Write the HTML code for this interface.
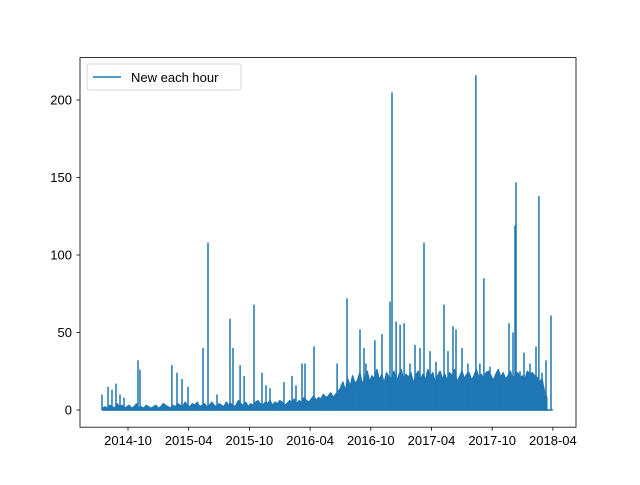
<!DOCTYPE html>
<html><head><meta charset="utf-8"><style>
body{margin:0;background:#fff}
svg{font-family:"Liberation Sans","DejaVu Sans",sans-serif}
</style></head><body>
<svg width="640" height="480" viewBox="0 0 640 480">
<rect width="640" height="480" fill="#fff"/>
<g id="plot"></g>
<rect x="80" y="57.6" width="496" height="369.6" fill="none" stroke="#000" stroke-width="0.8"/>
<g id="xt"></g>
<g id="yt"></g>
<g>
<rect x="87" y="64" width="154" height="26" rx="2" fill="#fff" fill-opacity="0.8" stroke="#ccc" stroke-width="0.8"/>
<line x1="93" y1="77" x2="121" y2="77" stroke="#1f77b4" stroke-width="1.5"/>
<text x="131" y="82" font-size="13" fill="#000">New each hour</text>
</g>
</svg>
<script>
const xTickYears=[2014.75,2015.25,2015.75,2016.25,2016.75,2017.25,2017.75,2018.25];
const xTickLabels=["2014-10","2015-04","2015-10","2016-04","2016-10","2017-04","2017-10","2018-04"];
const yTicks=[0,50,100,150,200];
const bgStart=2014.54, bgStep=0.02;
const bgValues=[1,2,1,3,2,1,4,2,3,1,2,3,1,2,4,1,2,1,3,2,1,2,3,1,2,4,3,2,1,3,2,4,3,2,5,3,2,4,3,5,2,3,4,2,3,5,3,2,4,3,2,5,3,4,2,3,6,4,3,5,2,4,3,5,6,4,3,5,4,6,3,5,4,6,5,3,4,6,5,7,4,6,5,8,6,5,7,9,6,8,7,10,8,9,11,8,10,12,
14,18,12,20,15,22,17,19,24,16,21,25,18,22,20,26,19,23,17,24,21,20,25,18,22,26,19,23,21,24,17,22,25,20,23,19,26,21,24,18,22,25,20,23,19,24,22,26,18,21,25,20,23,24,19,22,26,21,23,20,24,25,22,19,23,26,21,24,20,22,25,19,23,24,21,22,20,25,23,24,22,21,18,20,12,8];
const spikeYears=[2014.536,2014.585,2014.618,2014.651,2014.684,2014.717,2014.832,2014.849,2015.112,2015.154,2015.195,2015.244,2015.368,2015.409,2015.483,2015.590,2015.615,2015.673,2015.706,2015.788,2015.854,2015.887,2015.920,2016.035,2016.101,2016.134,2016.183,2016.208,2016.282,2016.472,2016.554,2016.595,2016.661,2016.694,2016.710,2016.784,2016.842,2016.908,2016.925,2016.958,2016.991,2017.024,2017.073,2017.114,2017.155,2017.188,2017.238,2017.287,2017.353,2017.386,2017.427,2017.452,2017.501,2017.550,2017.616,2017.649,2017.682,2017.732,2017.814,2017.888,2017.921,2017.938,2017.946,2017.979,2018.012,2018.061,2018.111,2018.135,2018.160,2018.193,2018.234];
const spikeValues=[10,15,13,17,10,8,32,26,29,24,20,15,40,108,10,59,40,29,22,68,24,16,14,18,22,16,30,30,41,30,72,20,52,40,30,45,49,70,205,57,55,56,30,42,40,108,38,31,68,38,54,52,40,30,216,30,85,28,21,56,50,119,147,25,37,30,41,138,24,32,61];
const X=t=>128+(t-2014.75)*121.4, Y=v=>410-v*1.55;
const ns="http://www.w3.org/2000/svg";
const plot=document.getElementById("plot");
// background dense band as filled jagged area
let bd="M"+X(bgStart).toFixed(1)+","+Y(0);
bgValues.forEach((v,i)=>{bd+=" L"+X(bgStart+i*bgStep).toFixed(1)+","+Y(v).toFixed(1);});
bd+=" L"+X(bgStart+(bgValues.length-1)*bgStep).toFixed(1)+","+Y(0)+" Z";
const bg=document.createElementNS(ns,"path");


bg.setAttribute("d",bd);bg.setAttribute("fill","#1f77b4");bg.setAttribute("stroke","#1f77b4");bg.setAttribute("stroke-width","1.5");bg.setAttribute("stroke-linejoin","round");
plot.appendChild(bg);
let d="M"+X(bgStart).toFixed(1)+","+Y(0)+" L"+X(2018.25).toFixed(1)+","+Y(0);
spikeYears.forEach((t,i)=>{const x=X(t).toFixed(1);d+=" M"+x+","+Y(0)+" L"+x+","+Y(spikeValues[i]).toFixed(1);});
const path=document.createElementNS(ns,"path");


path.setAttribute("d",d);path.setAttribute("fill","none");path.setAttribute("stroke","#1f77b4");path.setAttribute("stroke-width","1.5");
plot.appendChild(path);
const xt=document.getElementById("xt");
xTickYears.forEach((t,i)=>{
 const l=document.createElementNS(ns,"line");
 
 
 l.setAttribute("x1",X(t));l.setAttribute("x2",X(t));l.setAttribute("y1",427.2);l.setAttribute("y2",430.7);l.setAttribute("stroke","#000");l.setAttribute("stroke-width","0.8");xt.appendChild(l);
 const tx=document.createElementNS(ns,"text");
 
 
 tx.setAttribute("x",X(t));tx.setAttribute("y",445);tx.setAttribute("text-anchor","middle");tx.setAttribute("font-size","13");tx.textContent=xTickLabels[i];xt.appendChild(tx);
});
const yt=document.getElementById("yt");
yTicks.forEach(v=>{
 const l=document.createElementNS(ns,"line");
 
 
 l.setAttribute("x1",76.5);l.setAttribute("x2",80);l.setAttribute("y1",Y(v));l.setAttribute("y2",Y(v));l.setAttribute("stroke","#000");l.setAttribute("stroke-width","0.8");yt.appendChild(l);
 const tx=document.createElementNS(ns,"text");
 
 
 tx.setAttribute("x",72);tx.setAttribute("y",Y(v)+4.5);tx.setAttribute("text-anchor","end");tx.setAttribute("font-size","13");tx.textContent=v;yt.appendChild(tx);
});
</script>
</body></html>
